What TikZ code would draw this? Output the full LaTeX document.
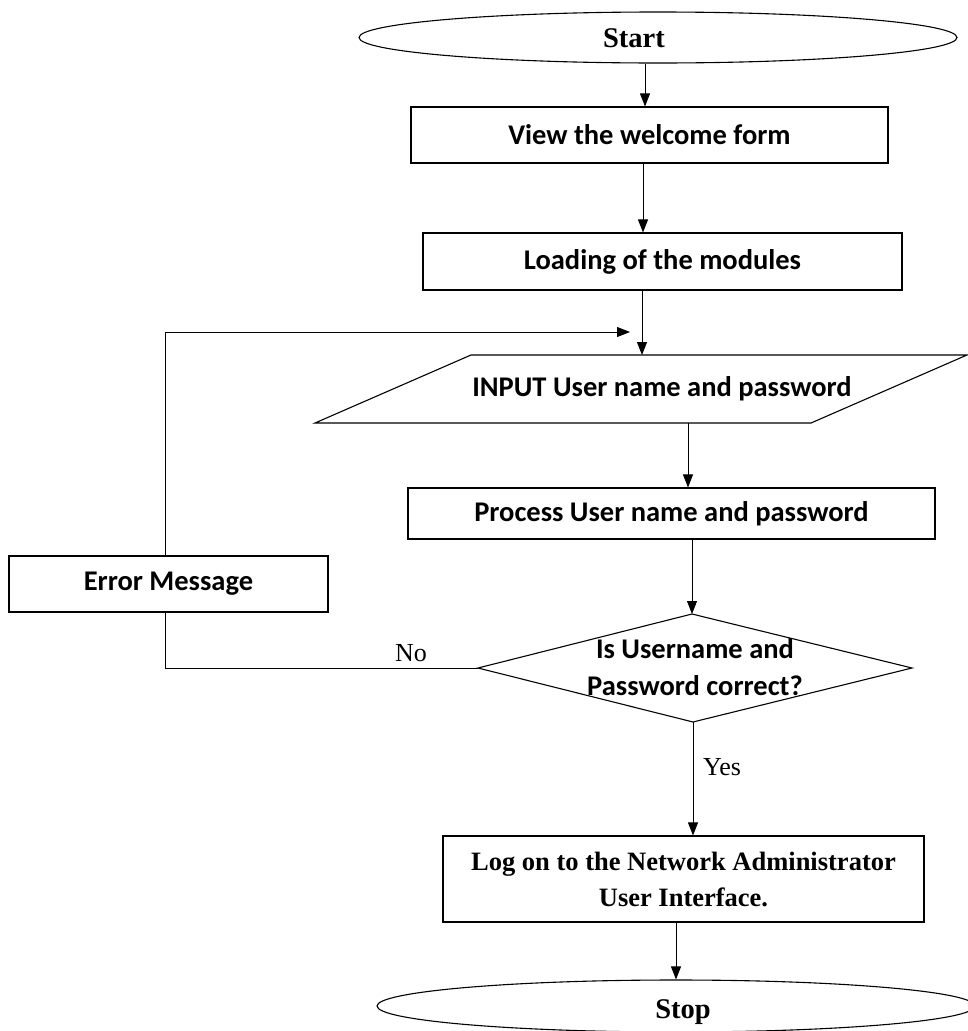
\documentclass[tikz,border=0pt]{standalone}
\usepackage{fontspec}
\setmainfont{Liberation Serif}
\newfontfamily\boxfont{Carlito}
\usetikzlibrary{arrows.meta,shapes.geometric}
\begin{document}
\begin{tikzpicture}[x=1pt,y=-1pt,
  link/.style={line width=0.9pt},
  arr/.style={line width=0.9pt,-{Triangle[length=13pt,width=10pt]}},
  outline/.style={draw,line width=1.1pt},
  procbox/.style={outline,inner sep=0pt,font=\boxfont\bfseries\fontsize{28.5}{34}\selectfont},
  boxtext/.style={inner sep=0pt,font=\boxfont\bfseries\fontsize{28.5}{37}\selectfont},
  term/.style={outline,ellipse,inner sep=0pt},
  serifb/.style={inner sep=0pt,font=\bfseries\fontsize{28.5}{34}\selectfont},
  serifbox/.style={outline,inner sep=0pt,align=center,font=\bfseries\fontsize{26.5}{36}\selectfont},
  branch/.style={inner sep=0pt,font=\fontsize{26}{30}\selectfont}
]
\useasboundingbox (0,0) rectangle (968,1031);
\clip (0,0) rectangle (968,1031);

% terminals
\node[term, minimum width=598pt, minimum height=51pt] (start) at (658,37.5) {};
\node[serifb] (starttxt) at (634,38) {Start};
\node[term, minimum width=598pt, minimum height=52pt] (stop) at (676,1006) {};
\node[serifb] (stoptxt) at (683,1012) {Stop};

% process boxes
\node[procbox, minimum width=477pt, minimum height=56pt] (view) at (649.5,135) {View the welcome form};
\node[procbox, minimum width=479pt, minimum height=57pt] (load) at (662.5,261.5) {Loading of the modules};
\node[procbox, minimum width=527pt, minimum height=51pt] (proc) at (671.5,513.5) {Process User name and password};
\node[procbox, minimum width=319pt, minimum height=56pt] (err) at (168.5,584) {Error Message};
\node[serifbox, minimum width=481pt, minimum height=86pt] (logon) at (683.5,879)
  {Log on to the Network Administrator\\User Interface.};

% input parallelogram
\coordinate (pTL) at (471,355);
\coordinate (pTR) at (967,355);
\coordinate (pBR) at (811,423);
\coordinate (pBL) at (315,423);
\draw[outline] (pTL) -- (pTR) -- (pBR) -- (pBL) -- cycle;
\node[boxtext] (input) at (662,389) {INPUT User name and password};

% decision diamond
\coordinate (dT) at (692,614);
\coordinate (dR) at (912,668);
\coordinate (dB) at (693,722);
\coordinate (dL) at (478,668);
\draw[outline] (dT) -- (dR) -- (dB) -- (dL) -- cycle;
\node[boxtext, align=center] (ask) at (695,667) {Is Username and\\Password correct?};

% branch labels
\node[branch] (no) at (411,653) {No};
\node[branch] (yes) at (722,767) {Yes};

% main flow
\coordinate (x1) at (645,0);
\coordinate (x2) at (643,0);
\coordinate (x3) at (642,0);
\coordinate (x4) at (688,0);
\coordinate (x5) at (676,0);
\draw[arr] (start.south -| x1) -- (view.north -| x1);
\draw[arr] (view.south -| x2) -- (load.north -| x2);
\draw[arr] (load.south -| x3) -- (pTL -| x3);
\draw[arr] (pBL -| x4) -- (proc.north -| x4);
\draw[arr] (proc.south -| dT) -- (dT);
\draw[arr] (dB) -- (logon.north -| dB);
\draw[arr] (logon.south -| x5) -- (stop.north -| x5);

% retry loop through the error message
\coordinate (fb) at (165,0);
\coordinate (fbtop) at (165,332);
\coordinate (fbend) at (630,332);
\draw[link] (dL) -- (dL -| fb) -- (err.south -| fb);
\draw[arr] (err.north -| fb) -- (fbtop) -- (fbend);
\end{tikzpicture}
\end{document}
